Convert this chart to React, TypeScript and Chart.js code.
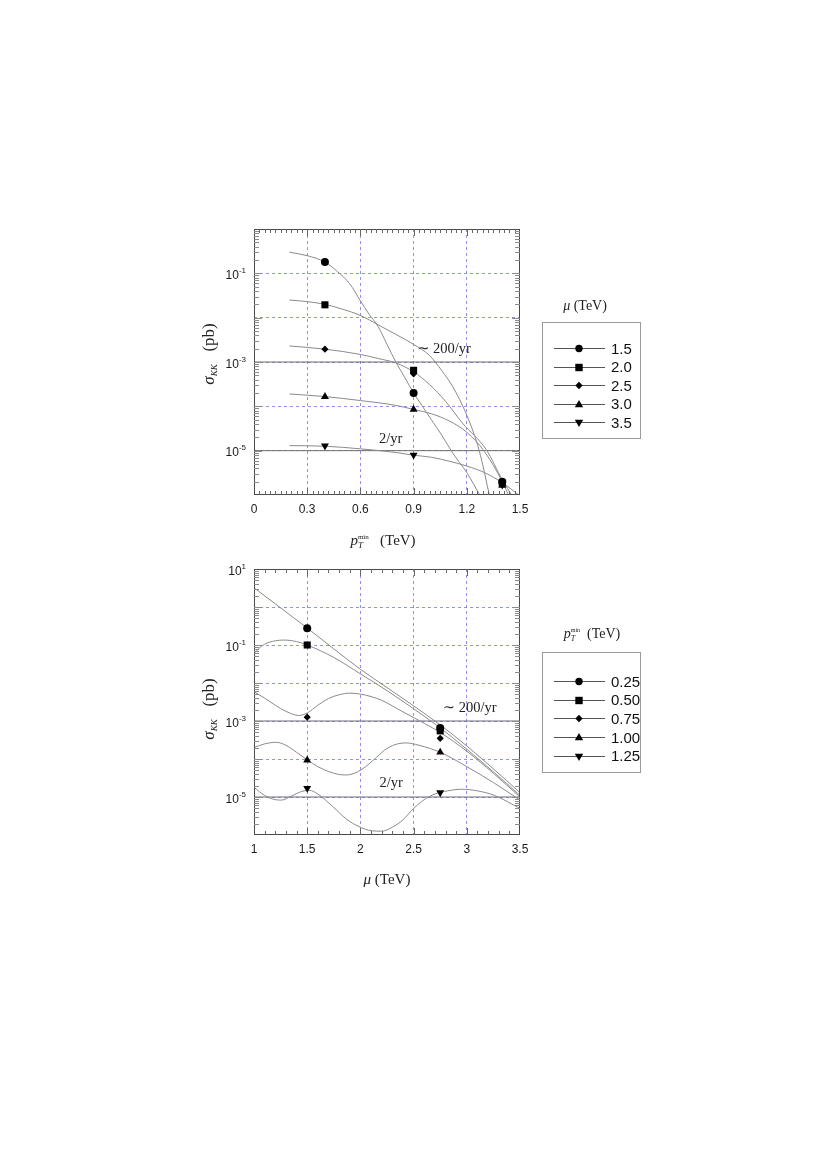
import React, { useEffect, useRef } from 'react';
import { Chart, registerables } from 'chart.js';

Chart.register(...registerables);

// ---------------- Shared data ----------------
const RATE_LINES = [1e-3, 1e-5];
const RATE_LABELS = ['\u223C 200/yr', '2/yr'];

// ---------------- Top panel: sigma_KK vs pT_min, one curve per mu ----------------
const TOP_MU = ['1.5', '2.0', '2.5', '3.0', '3.5'];
const TOP_X_TICKS = ['0', '0.3', '0.6', '0.9', '1.2', '1.5'];
const TOP_Y_EXP = [-1, -3, -5];
const TOP_MARK_X = [0.4, 0.9, 1.4];
const TOP_MARK_Y = [
  [0.18, 2.0e-4, 2.0e-6],
  [0.0195, 6.5e-4, 1.85e-6],
  [1.95e-3, 5.4e-4, 1.75e-6],
  [1.66e-4, 8.5e-5, 1.65e-6],
  [1.28e-5, 8.0e-6, 1.7e-6],
];
const TOP_CURVE_X = [
  [0.2, 0.3, 0.4, 0.47, 0.54, 0.6, 0.65, 0.7, 0.75, 0.8, 0.85, 0.9, 0.95, 1.0, 1.06, 1.12, 1.2, 1.28],
  [0.2, 0.3, 0.4, 0.5, 0.6, 0.7, 0.8, 0.9, 0.99, 1.06, 1.12, 1.2, 1.27, 1.33],
  [0.2, 0.4, 0.6, 0.7, 0.8, 0.9, 0.99, 1.08, 1.175, 1.31, 1.4, 1.46],
  [0.2, 0.4, 0.6, 0.8, 0.9, 1.0, 1.1, 1.2, 1.3, 1.4, 1.44],
  [0.2, 0.4, 0.6, 0.8, 0.9, 1.0, 1.1, 1.2, 1.3, 1.4, 1.5],
];
const TOP_CURVE_Y = [
  [0.30, 0.25, 0.18, 0.11, 0.058, 0.024, 0.0118, 6.3e-3, 2.5e-3, 1.0e-3, 4.5e-4, 2.0e-4, 1.0e-4, 5.0e-5, 2.2e-5, 8.9e-6, 3.2e-6, 8.9e-7],
  [0.025, 0.023, 0.020, 0.0155, 0.0112, 6.9e-3, 4.2e-3, 2.5e-3, 1.4e-3, 6.3e-4, 2.8e-4, 6.3e-5, 1.0e-5, 8.9e-7],
  [2.3e-3, 1.95e-3, 1.48e-3, 1.2e-3, 9.5e-4, 6.0e-4, 3.1e-4, 1.3e-4, 4.2e-5, 1.05e-5, 2.2e-6, 8.9e-7],
  [1.9e-4, 1.66e-4, 1.35e-4, 1.05e-4, 8.5e-5, 6.8e-5, 4.7e-5, 2.6e-5, 9.5e-6, 2.0e-6, 8.9e-7],
  [1.3e-5, 1.26e-5, 1.1e-5, 9.1e-6, 7.9e-6, 7.1e-6, 5.8e-6, 4.5e-6, 3.2e-6, 1.9e-6, 9.5e-7],
];

// ---------------- Bottom panel: sigma_KK vs mu, one curve per pT_min ----------------
const BOT_PT = ['0.25', '0.50', '0.75', '1.00', '1.25'];
const BOT_X_TICKS = ['1', '1.5', '2', '2.5', '3', '3.5'];
const BOT_Y_EXP = [1, -1, -3, -5];
const BOT_MARK_X = [1.5, 2.75];
const BOT_MARK_Y = [
  [0.275, 6.5e-4],
  [0.10, 5.5e-4],
  [1.26e-3, 3.5e-4],
  [9.3e-5, 1.5e-4],
  [1.7e-5, 1.3e-5],
];
const BOT_CURVE_X = [
  [1.0, 1.25, 1.5, 1.75, 2.0, 2.25, 2.5, 2.75, 3.0, 3.25, 3.5],
  [1.0, 1.05, 1.1, 1.2, 1.28, 1.4, 1.5, 1.75, 2.0, 2.25, 2.5, 2.75, 3.0, 3.25, 3.5],
  [1.0, 1.1, 1.2, 1.3, 1.42, 1.5, 1.6, 1.7, 1.8, 1.9, 2.0, 2.1, 2.2, 2.4, 2.6, 2.75, 3.0, 3.25, 3.5],
  [1.0, 1.1, 1.21, 1.3, 1.4, 1.5, 1.6, 1.7, 1.8, 1.87, 1.95, 2.05, 2.15, 2.25, 2.35, 2.43, 2.55, 2.75, 3.0, 3.25, 3.5],
  [1.0, 1.1, 1.2, 1.26, 1.35, 1.45, 1.52, 1.6, 1.74, 1.87, 2.0, 2.1, 2.2, 2.3, 2.4, 2.5, 2.6, 2.7, 2.82, 2.95, 3.1, 3.26, 3.5],
];
const BOT_CURVE_Y = [
  [3.2, 0.95, 0.28, 0.079, 0.023, 7.6e-3, 2.5e-3, 7.9e-4, 2.2e-4, 5.5e-5, 1.3e-5],
  [0.060, 0.083, 0.105, 0.129, 0.135, 0.123, 0.10, 0.047, 0.0174, 6.3e-3, 2.1e-3, 6.6e-4, 1.8e-4, 4.6e-5, 1.1e-5],
  [5.9e-3, 4.0e-3, 2.6e-3, 1.8e-3, 1.4e-3, 1.62e-3, 2.6e-3, 3.9e-3, 4.9e-3, 5.4e-3, 5.1e-3, 4.4e-3, 3.5e-3, 1.74e-3, 8.7e-4, 5.0e-4, 1.6e-4, 4.2e-5, 1.0e-5],
  [2.0e-4, 2.5e-4, 2.75e-4, 2.3e-4, 1.5e-4, 9.5e-5, 6.3e-5, 4.7e-5, 3.9e-5, 3.8e-5, 4.3e-5, 6.3e-5, 1.1e-4, 1.9e-4, 2.5e-4, 2.65e-4, 2.3e-4, 1.5e-4, 6.3e-5, 2.4e-5, 8.3e-6],
  [1.8e-5, 1.1e-5, 8.5e-6, 8.3e-6, 1.05e-5, 1.4e-5, 1.5e-5, 1.2e-5, 5.6e-6, 2.6e-6, 1.6e-6, 1.3e-6, 1.26e-6, 1.6e-6, 2.5e-6, 5.0e-6, 8.5e-6, 1.2e-5, 1.45e-5, 1.6e-5, 1.45e-5, 1.1e-5, 5.0e-6],
];

// ---------------- Styling helpers ----------------
const SANS = '"Liberation Sans", Arial, Helvetica, sans-serif';
const SERIF = '"Liberation Serif", "Times New Roman", "DejaVu Serif", serif';
const CURVE_COLOR = '#8a8a8a';
const GRID_COLOR = 'rgba(110,110,230,0.75)';

const MARKERS = [
  { pointStyle: 'circle', radius: 4, rotation: 0 },
  { pointStyle: 'rect', radius: 5.0, rotation: 0 },
  { pointStyle: 'rectRot', radius: 3.6, rotation: 0 },
  { pointStyle: 'triangle', radius: 4.6, rotation: 0 },
  { pointStyle: 'triangle', radius: 4.6, rotation: 180 },
];

type Run = { t: string; f: string; dy?: number; sup?: { t: string; f: string; dy: number } };

function runWidth(ctx: CanvasRenderingContext2D, r: Run) {
  ctx.font = r.f;
  let w = ctx.measureText(r.t).width;
  if (r.sup) {
    ctx.font = r.sup.f;
    w = Math.max(w, ctx.measureText(r.sup.t).width);
  }
  return w;
}

function drawRuns(ctx: CanvasRenderingContext2D, runs: Run[], x: number, y: number, align: 'left' | 'center' | 'right') {
  const widths = runs.map((r) => runWidth(ctx, r));
  const total = widths.reduce((a, b) => a + b, 0);
  let cx = align === 'left' ? x : align === 'center' ? x - total / 2 : x - total;
  ctx.textAlign = 'left';
  ctx.textBaseline = 'alphabetic';
  runs.forEach((r, i) => {
    ctx.font = r.f;
    ctx.fillText(r.t, cx, y + (r.dy || 0));
    if (r.sup) {
      ctx.font = r.sup.f;
      ctx.fillText(r.sup.t, cx, y + r.sup.dy);
    }
    cx += widths[i];
  });
}

function drawLegendMarker(ctx: CanvasRenderingContext2D, kind: number, x: number, y: number) {
  ctx.beginPath();
  if (kind === 0) {
    ctx.arc(x, y, 3.7, 0, Math.PI * 2);
  } else if (kind === 1) {
    ctx.rect(x - 3.7, y - 3.7, 7.4, 7.4);
  } else if (kind === 2) {
    ctx.moveTo(x, y - 3.7);
    ctx.lineTo(x + 3.7, y);
    ctx.lineTo(x, y + 3.7);
    ctx.lineTo(x - 3.7, y);
    ctx.closePath();
  } else if (kind === 3) {
    ctx.moveTo(x, y - 4.5);
    ctx.lineTo(x + 4.2, y + 2.7);
    ctx.lineTo(x - 4.2, y + 2.7);
    ctx.closePath();
  } else {
    ctx.moveTo(x, y + 4.5);
    ctx.lineTo(x + 4.2, y - 2.7);
    ctx.lineTo(x - 4.2, y - 2.7);
    ctx.closePath();
  }
  ctx.fillStyle = '#000';
  ctx.fill();
}

const ptTitle = (big: number, small: number, tiny: number, gap: string): Run[] => [
  { t: 'p', f: `italic ${big}px ${SERIF}` },
  { t: 'T', f: `italic ${small}px ${SERIF}`, dy: 3, sup: { t: 'min', f: `${tiny}px ${SERIF}`, dy: -6 } },
  { t: gap + '(TeV)', f: `${big}px ${SERIF}` },
];
const muTitle = (big: number): Run[] => [
  { t: '\u03BC', f: `italic ${big}px ${SERIF}` },
  { t: ' (TeV)', f: `${big}px ${SERIF}` },
];

type Spec = {
  canvasTop: number;
  height: number;
  area: { left: number; right: number; top: number; bottom: number };
  xMin: number;
  xMax: number;
  xTicks: string[];
  xMinorStep: number;
  yMin: number;
  yMax: number;
  yExp: number[];
  curvesX: number[][];
  curvesY: number[][];
  markX: number[];
  markY: number[][];
  legendLabels: string[];
  legendTitle: Run[];
  legendTitleX: number;
  legendTitleY: number;
  legendBox: [number, number, number, number];
  legendRow0: number;
  legendRowStep: number;
  xTitle: Run[];
  xTitleX: number;
  xTitleY: number;
  yTitleCY: number;
  rateLabelX: number[];
  rateLabelDY: number[];
};

const TOP_SPEC: Spec = {
  canvasTop: 0,
  height: 555,
  area: { left: 254, right: 520, top: 229, bottom: 495 },
  xMin: 0,
  xMax: 1.5,
  xTicks: TOP_X_TICKS,
  xMinorStep: 0.03,
  yMin: 1e-6,
  yMax: 1,
  yExp: TOP_Y_EXP,
  curvesX: TOP_CURVE_X,
  curvesY: TOP_CURVE_Y,
  markX: TOP_MARK_X,
  markY: TOP_MARK_Y,
  legendLabels: TOP_MU,
  legendTitle: muTitle(14),
  legendTitleX: 585,
  legendTitleY: 310,
  legendBox: [542, 322, 640, 438],
  legendRow0: 348,
  legendRowStep: 18.5,
  xTitle: ptTitle(15, 9, 7, '   '),
  xTitleX: 383,
  xTitleY: 545,
  yTitleCY: 354,
  rateLabelX: [0.92, 0.705],
  rateLabelDY: [-9, -8],
};

const BOT_SPEC: Spec = {
  canvasTop: 555,
  height: 615,
  area: { left: 254, right: 520, top: 569, bottom: 835 },
  xMin: 1,
  xMax: 3.5,
  xTicks: BOT_X_TICKS,
  xMinorStep: 0.1,
  yMin: 1e-6,
  yMax: 10,
  yExp: BOT_Y_EXP,
  curvesX: BOT_CURVE_X,
  curvesY: BOT_CURVE_Y,
  markX: BOT_MARK_X,
  markY: BOT_MARK_Y,
  legendLabels: BOT_PT,
  legendTitle: ptTitle(14, 8, 6, '  '),
  legendTitleX: 592,
  legendTitleY: 638,
  legendBox: [542, 652, 640, 772],
  legendRow0: 681,
  legendRowStep: 18.7,
  xTitle: muTitle(15),
  xTitleX: 387,
  xTitleY: 884,
  yTitleCY: 709,
  rateLabelX: [2.775, 2.18],
  rateLabelDY: [-9, -10],
};

function buildChart(canvas: HTMLCanvasElement, s: Spec) {
  const off = s.canvasTop;
  const W = 828;
  const H = s.height;
  const a = s.area;
  const xTickVals = s.xTicks.map((t) => parseFloat(t));
  const yDecades: number[] = [];
  for (let e = Math.round(Math.log10(s.yMin)); e <= Math.round(Math.log10(s.yMax)); e++) yDecades.push(e);

  const datasets: any[] = [];
  s.markY.forEach((ys, i) => {
    const m = MARKERS[i];
    datasets.push({
      label: s.legendLabels[i],
      data: ys.map((y, j) => ({ x: s.markX[j], y })),
      showLine: false,
      pointStyle: m.pointStyle,
      pointRadius: m.radius,
      pointRotation: m.rotation,
      pointBackgroundColor: '#000',
      pointBorderColor: '#000',
      pointBorderWidth: 0,
    });
  });
  s.curvesY.forEach((ys, i) => {
    datasets.push({
      label: 'curve ' + s.legendLabels[i],
      data: ys.map((y, j) => ({ x: s.curvesX[i][j], y })),
      borderColor: CURVE_COLOR,
      borderWidth: 1,
      pointRadius: 0,
      cubicInterpolationMode: 'monotone',
      fill: false,
    });
  });
  RATE_LINES.forEach((r, i) => {
    datasets.push({
      label: RATE_LABELS[i],
      data: [
        { x: s.xMin, y: r },
        { x: s.xMax, y: r },
      ],
      borderColor: '#6e6e6e',
      borderWidth: 1,
      pointRadius: 0,
      fill: false,
    });
  });

  const isEdge = (v: number, lo: number, hi: number) =>
    Math.abs(v - lo) < 1e-9 * Math.max(1, Math.abs(lo)) || Math.abs(v - hi) < 1e-9 * Math.max(1, Math.abs(hi));

  const decor = {
    id: 'decor',
    afterDraw(chart: any) {
      const ctx: CanvasRenderingContext2D = chart.ctx;
      const xs = chart.scales.x;
      const ys = chart.scales.y;
      const ca = chart.chartArea;
      ctx.save();
      ctx.strokeStyle = '#4a4a4a';
      ctx.lineWidth = 1;
      ctx.strokeRect(ca.left + 0.5, ca.top + 0.5, ca.right - ca.left - 1, ca.bottom - ca.top - 1);

      ctx.strokeStyle = '#666';
      const n = Math.round((s.xMax - s.xMin) / s.xMinorStep);
      const majorEvery = Math.round((xTickVals[1] - xTickVals[0]) / s.xMinorStep);
      ctx.beginPath();
      for (let i = 1; i < n; i++) {
        const v = s.xMin + i * s.xMinorStep;
        const px = Math.round(xs.getPixelForValue(v)) + 0.5;
        const len = i % majorEvery === 0 ? 7 : 4;
        ctx.moveTo(px, ca.bottom);
        ctx.lineTo(px, ca.bottom - len);
        ctx.moveTo(px, ca.top);
        ctx.lineTo(px, ca.top + len);
      }
      ctx.stroke();

      ctx.strokeStyle = '#8a8a8a';
      ctx.beginPath();
      yDecades.forEach((e) => {
        for (let m = 1; m <= 9; m++) {
          const v = m * Math.pow(10, e);
          if (v <= s.yMin * 1.0001 || v >= s.yMax * 0.9999) continue;
          const py = Math.round(ys.getPixelForValue(v)) + 0.5;
          const len = m === 1 ? 8 : 5;
          ctx.moveTo(ca.left, py);
          ctx.lineTo(ca.left + len, py);
          ctx.moveTo(ca.right, py);
          ctx.lineTo(ca.right - len, py);
        }
      });
      ctx.stroke();

      ctx.fillStyle = '#1a1a1a';
      ctx.font = `12px ${SANS}`;
      ctx.textAlign = 'center';
      ctx.textBaseline = 'alphabetic';
      s.xTicks.forEach((t, i) => {
        ctx.fillText(t, xs.getPixelForValue(xTickVals[i]), ca.bottom + 18);
      });
      s.yExp.forEach((e) => {
        const py = ys.getPixelForValue(Math.pow(10, e));
        const sup = String(e);
        ctx.font = `8px ${SANS}`;
        const sw = ctx.measureText(sup).width;
        ctx.textAlign = 'left';
        const right = ca.left - 8;
        ctx.fillText(sup, right - sw, py - 0.5);
        ctx.font = `12px ${SANS}`;
        ctx.textAlign = 'right';
        ctx.fillText('10', right - sw, py + 5.5);
      });

      ctx.fillStyle = '#222';
      drawRuns(ctx, s.xTitle, s.xTitleX, s.xTitleY - off, 'center');
      ctx.save();
      ctx.translate(214, s.yTitleCY - off);
      ctx.rotate(-Math.PI / 2);
      drawRuns(
        ctx,
        [
          { t: '\u03C3', f: `italic 17px ${SERIF}` },
          { t: 'KK', f: `italic 9px ${SERIF}`, dy: 3 },
          { t: '   (pb)', f: `17px ${SERIF}` },
        ],
        0,
        0,
        'center'
      );
      ctx.restore();

      RATE_LINES.forEach((r, i) => {
        ctx.font = `14.5px ${SERIF}`;
        ctx.textAlign = 'left';
        ctx.fillText(RATE_LABELS[i], xs.getPixelForValue(s.rateLabelX[i]), ys.getPixelForValue(r) + s.rateLabelDY[i]);
      });

      drawRuns(ctx, s.legendTitle, s.legendTitleX, s.legendTitleY - off, 'center');
      const [bx0, by0, bx1, by1] = s.legendBox;
      ctx.strokeStyle = '#9a9a9a';
      ctx.lineWidth = 1;
      ctx.strokeRect(bx0 + 0.5, by0 - off + 0.5, bx1 - bx0, by1 - by0);
      s.legendLabels.forEach((lab, i) => {
        const y = s.legendRow0 + i * s.legendRowStep - off;
        ctx.strokeStyle = '#555';
        ctx.beginPath();
        ctx.moveTo(554, Math.round(y) + 0.5);
        ctx.lineTo(605, Math.round(y) + 0.5);
        ctx.stroke();
        drawLegendMarker(ctx, i, 579, Math.round(y) + 0.5);
        ctx.fillStyle = '#111';
        ctx.font = `15px ${SANS}`;
        ctx.textAlign = 'left';
        ctx.fillText(lab, 611, y + 5.5);
      });
      ctx.restore();
    },
  };

  return new Chart(canvas, {
    type: 'line',
    data: { datasets },
    plugins: [decor],
    options: {
      animation: false,
      responsive: false,
      maintainAspectRatio: false,
      events: [],
      layout: {
        padding: { left: a.left, right: W - a.right, top: a.top - off, bottom: H - (a.bottom - off) },
      },
      plugins: { legend: { display: false }, tooltip: { enabled: false } },
      scales: {
        x: {
          type: 'linear',
          min: s.xMin,
          max: s.xMax,
          afterBuildTicks: (sc: any) => {
            sc.ticks = xTickVals.map((v) => ({ value: v }));
          },
          afterFit: (sc: any) => {
            sc.height = 0;
          },
          ticks: { display: false },
          grid: {
            drawTicks: false,
            tickLength: 0,
            lineWidth: 1,
            color: (c: any) => (isEdge(c.tick.value, s.xMin, s.xMax) ? 'rgba(0,0,0,0)' : GRID_COLOR),
          },
          border: { display: false, dash: [3, 3] },
        },
        y: {
          type: 'logarithmic',
          min: s.yMin,
          max: s.yMax,
          afterBuildTicks: (sc: any) => {
            sc.ticks = yDecades.map((e) => ({ value: Math.pow(10, e) }));
          },
          afterFit: (sc: any) => {
            sc.width = 0;
          },
          ticks: { display: false },
          grid: {
            drawTicks: false,
            tickLength: 0,
            lineWidth: 1,
            color: (c: any) => (isEdge(c.tick.value, s.yMin, s.yMax) ? 'rgba(0,0,0,0)' : GRID_COLOR),
          },
          border: { display: false, dash: [3, 3] },
        },
      },
    } as any,
  });
}

function Panel({ spec }: { spec: Spec }) {
  const ref = useRef<HTMLCanvasElement>(null);
  useEffect(() => {
    const chart = buildChart(ref.current as HTMLCanvasElement, spec);
    return () => chart.destroy();
  }, [spec]);
  return (
    <canvas
      ref={ref}
      width={828}
      height={spec.height}
      style={{ position: 'absolute', left: 0, top: spec.canvasTop, width: 828, height: spec.height, display: 'block' }}
    />
  );
}

export default function App() {
  return (
    <div style={{ position: 'absolute', left: 0, top: 0, width: 828, height: 1170, background: '#fff', overflow: 'hidden' }}>
      <Panel spec={TOP_SPEC} />
      <Panel spec={BOT_SPEC} />
    </div>
  );
}
